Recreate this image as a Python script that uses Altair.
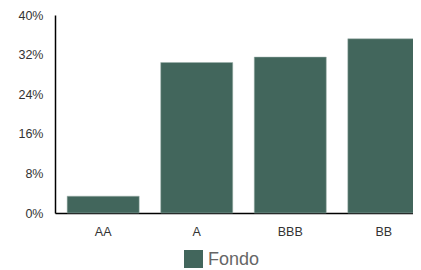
import altair as alt
import pandas as pd

categories = ["AA", "A", "BBB", "BB"]
values = [0.034, 0.304, 0.315, 0.352]
series = ["Fondo"] * 4

df = pd.DataFrame({"cat": categories, "val": values, "serie": series})

chart = alt.Chart(df).mark_bar(stroke="#9fb3ad", strokeWidth=0.5).encode(
    x=alt.X("cat:N", sort=categories, title=None,
            scale=alt.Scale(range=[0, 377], paddingInner=0.23, paddingOuter=0.13),
            axis=alt.Axis(labelAngle=0, ticks=False, labelPadding=12, labelFontSize=12.5,
                          labelColor="#333333", labelFont="Liberation Sans",
                          domainColor="#000000", domainWidth=1.5)),
    y=alt.Y("val:Q", title=None,
            scale=alt.Scale(domain=[0, 0.4], nice=False),
            axis=alt.Axis(values=[0, 0.08, 0.16, 0.24, 0.32, 0.4], format=".0%", ticks=False,
                          grid=False, labelPadding=12, labelFontSize=12.5, labelColor="#333333",
                          labelFont="Liberation Sans", domainColor="#000000", domainWidth=1.5)),
    color=alt.Color("serie:N", scale=alt.Scale(range=["#42665c"]), title=None,
                    legend=alt.Legend(orient="none", legendX=129, legendY=235,
                                      symbolType="square", symbolSize=361,
                                      symbolStrokeWidth=0, labelFontSize=18,
                                      labelColor="#666666", labelFont="Liberation Sans",
                                      labelOffset=5)),
).properties(
    width=358, height=198,
    autosize=alt.AutoSizeParams(type="none"),
    padding={"left": 47, "top": 7, "right": 0, "bottom": 55},
).configure_view(stroke=None).configure_axis(grid=False)

chart.save("out.html", embed_options={"renderer": "svg", "actions": False})
